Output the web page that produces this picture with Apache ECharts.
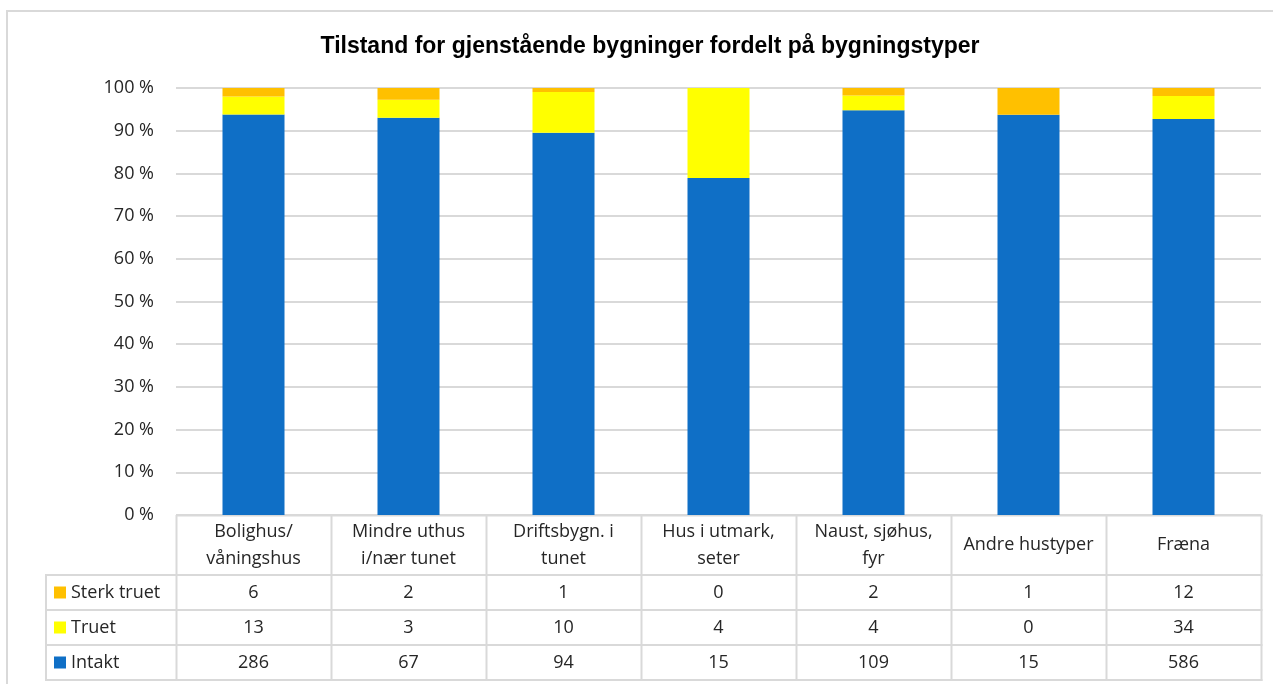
<!DOCTYPE html>
<html><head><meta charset="utf-8">
<script src="https://cdn.jsdelivr.net/npm/echarts@6/dist/echarts.min.js"></script>
<style>html,body{margin:0;padding:0;background:#fff}#c{width:1273px;height:684px}</style>
</head><body><div id="c"></div>
<script>
const title = 'Tilstand for gjenstående bygninger fordelt på bygningstyper';
const categories = ['Bolighus/\nvåningshus', 'Mindre uthus\ni/nær tunet', 'Driftsbygn. i\ntunet', 'Hus i utmark,\nseter', 'Naust, sjøhus,\nfyr', 'Andre hustyper', 'Fræna'];
const seriesNames = ['Sterk truet', 'Truet', 'Intakt'];
const sterkTruet = [6, 2, 1, 0, 2, 1, 12];
const truet = [13, 3, 10, 4, 4, 0, 34];
const intakt = [286, 67, 94, 15, 109, 15, 586];
const colors = {'Sterk truet': '#FFC000', 'Truet': '#FFFF00', 'Intakt': '#0F6FC6'};

const rawByName = {'Sterk truet': sterkTruet, 'Truet': truet, 'Intakt': intakt};
const totals = categories.map((_, i) => sterkTruet[i] + truet[i] + intakt[i]);
const pct = arr => arr.map((v, i) => v / totals[i] * 100);

const FONT = '"Open Sans", "Liberation Sans", sans-serif';
const FS = 18;
const GL = 176, GR = 1261, GT = 88, GB = 515;
const lineCol = '#d9d9d9';
const textCol = '#262626';

const chart = echarts.init(document.getElementById('c'), null, {renderer: 'canvas'});

const stackOrder = ['Intakt', 'Truet', 'Sterk truet'];
const series = stackOrder.map(n => ({
  name: n, type: 'bar', stack: 'tot', barWidth: '40%',
  itemStyle: {color: colors[n]},
  data: pct(rawByName[n])
}));

const g = [];
const cw = (GR - GL) / categories.length;
const rowY = [575, 610, 645, 680];
const TL = 46;
g.push({type: 'line', shape: {x1: 7, y1: 11, x2: 1273, y2: 11}, style: {stroke: lineCol, lineWidth: 2}});
g.push({type: 'line', shape: {x1: 7, y1: 10, x2: 7, y2: 684}, style: {stroke: lineCol, lineWidth: 2}});
for (let i = 0; i <= categories.length; i++) {
  const x = Math.round(GL + i * cw) + 0.5;
  g.push({type: 'line', shape: {x1: x, y1: GB, x2: x, y2: rowY[3] + 1}, style: {stroke: lineCol, lineWidth: 2}});
}
g.push({type: 'line', shape: {x1: TL, y1: rowY[0], x2: TL, y2: rowY[3] + 1}, style: {stroke: lineCol, lineWidth: 2}});
rowY.forEach(y => g.push({type: 'line', shape: {x1: TL - 1, y1: y, x2: GR + 1.5, y2: y}, style: {stroke: lineCol, lineWidth: 2}}));
g.push({type: 'line', shape: {x1: GL, y1: GB + 0.5, x2: GR + 1.5, y2: GB + 0.5}, style: {stroke: lineCol, lineWidth: 2}});
categories.forEach((c, i) => {
  g.push({type: 'text', x: GL + (i + 0.5) * cw, y: (GB + rowY[0]) / 2,
    style: {text: c, font: FS + 'px ' + FONT, fill: textCol, align: 'center', verticalAlign: 'middle', lineHeight: 27}});
});
seriesNames.forEach((n, r) => {
  const yc = (rowY[r] + rowY[r + 1]) / 2;
  g.push({type: 'rect', shape: {x: 54, y: yc - 6, width: 12, height: 12}, style: {fill: colors[n]}});
  g.push({type: 'text', x: 71, y: yc, style: {text: n, font: FS + 'px ' + FONT, fill: textCol, align: 'left', verticalAlign: 'middle'}});
  rawByName[n].forEach((v, i) => {
    g.push({type: 'text', x: GL + (i + 0.5) * cw, y: yc,
      style: {text: String(v), font: FS + 'px ' + FONT, fill: textCol, align: 'center', verticalAlign: 'middle'}});
  });
});

chart.setOption({
  animation: false,
  backgroundColor: '#fff',
  title: {text: title, left: 645, top: 30, textAlign: 'center',
    textStyle: {fontFamily: '"Liberation Sans", sans-serif', fontWeight: 'bold', fontSize: 23, color: '#000'}},
  grid: {left: GL, right: 1273 - GR, top: GT, bottom: 684 - GB, containLabel: false},
  xAxis: {type: 'category', data: categories,
    axisLine: {show: false}, axisTick: {show: false}, axisLabel: {show: false}},
  yAxis: {type: 'value', min: 0, max: 100, interval: 10,
    axisLine: {show: false}, axisTick: {show: false},
    axisLabel: {formatter: v => v + ' %', fontFamily: FONT, fontSize: FS, color: textCol, margin: 22},
    splitLine: {lineStyle: {color: lineCol, width: 2}}},
  series: series,
  graphic: g
});
</script></body></html>
